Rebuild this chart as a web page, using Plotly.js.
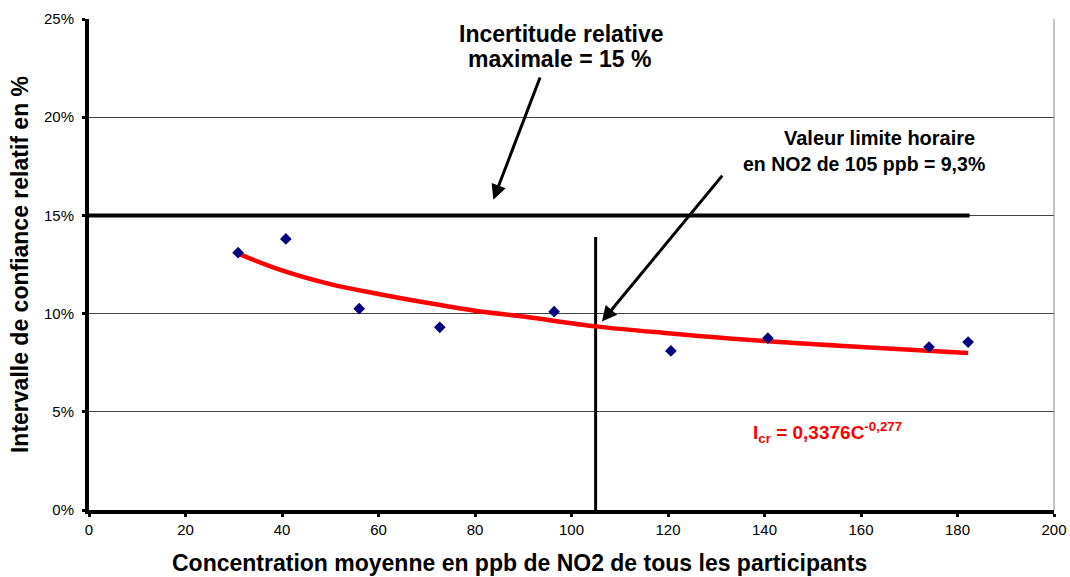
<!DOCTYPE html>
<html><head><meta charset="utf-8">
<script src="https://cdn.plot.ly/plotly-3.0.1.min.js"></script>
<style>body{margin:0;background:#fff}#c{width:1070px;height:577px}</style>
</head><body><div id="c"></div>
<script>
// measured points (concentration ppb, relative CI %)
const concentration = [30.9, 40.8, 56.0, 72.7, 96.4, 120.6, 140.7, 174.1, 182.2];
const intervalPct   = [13.1, 13.8, 10.25, 9.3, 10.1, 8.1, 8.75, 8.3, 8.55];
// power trend line
const trendX = [30.9, 40, 50, 60, 70, 80, 90, 105, 120, 140, 160, 182.2];
const trendY = [13.05, 12.2, 11.5, 11.0, 10.55, 10.15, 9.85, 9.35, 9.0, 8.6, 8.3, 8.0];
// reference lines
const limitX = [0, 182.5];
const limitY = [15, 15];
const hourX = [105, 105];
const hourY = [0, 13.9];
const xTicks = [0, 20, 40, 60, 80, 100, 120, 140, 160, 180, 200];
const yTicks = [0, 5, 10, 15, 20, 25];
const yTickText = ["0%", "5%", "10%", "15%", "20%", "25%"];

const F = "Liberation Sans, Arial, sans-serif";
const traces = [
  {x: limitX, y: limitY, mode: "lines", line: {color: "#000", width: 4}, hoverinfo: "skip"},
  {x: hourX, y: hourY, mode: "lines", line: {color: "#000", width: 3}, hoverinfo: "skip"},
  {x: trendX, y: trendY, mode: "lines", line: {color: "#ff0000", width: 4.5, shape: "spline"}},
  {x: concentration, y: intervalPct, mode: "markers",
   marker: {symbol: "diamond", size: 9, color: "#000080"}}
];
const layout = {
  width: 1070, height: 577, showlegend: false,
  paper_bgcolor: "#fff", plot_bgcolor: "#fff",
  margin: {l: 89, r: 16, t: 19, b: 67},
  font: {family: F, color: "#000"},
  xaxis: {range: [0, 200], tickvals: xTicks, showgrid: false, zeroline: false,
    showline: true, linecolor: "#000", linewidth: 4, mirror: false,
    ticks: "outside", ticklen: 3, tickwidth: 3, tickcolor: "#000",
    tickfont: {size: 15, family: F}},
  yaxis: {range: [0, 25], tickvals: yTicks, ticktext: yTickText,
    showgrid: true, gridcolor: "#444", gridwidth: 1, zeroline: false,
    showline: true, linecolor: "#000", linewidth: 4,
    ticks: "outside", ticklen: 3, tickwidth: 3, tickcolor: "#000",
    ticklabelstandoff: 5,
    tickfont: {size: 15, family: F},
    title: {text: "<b>Intervalle de confiance relatif en %</b>",
      font: {size: 23, family: F}, standoff: 10}},
  shapes: [
    {type: "line", xref: "paper", yref: "paper", x0: 1, x1: 1, y0: 0, y1: 1,
     line: {color: "#888", width: 1}}
  ],
  annotations: [
    {x: 83.8, y: 15.8, ax: 93.6, ay: 22.1, xref: "x", yref: "y", axref: "x", ayref: "y",
     text: "", showarrow: true, arrowhead: 2, arrowsize: 1, arrowwidth: 3, arrowcolor: "#000"},
    {x: 106.3, y: 9.6, ax: 131.5, ay: 17.1, xref: "x", yref: "y", axref: "x", ayref: "y",
     text: "", showarrow: true, arrowhead: 2, arrowsize: 1, arrowwidth: 3, arrowcolor: "#000"},
    {x: 0.4456, y: -0.108, xref: "paper", yref: "paper", xanchor: "center", yanchor: "middle",
     showarrow: false, text: "<b>Concentration moyenne en ppb de NO2 de tous les participants</b>",
     font: {size: 23, family: F}},
    {x: 98.0, y: 24.25, xref: "x", yref: "y", showarrow: false,
     text: "<b>Incertitude relative</b>", font: {size: 23, family: F}},
    {x: 97.6, y: 22.95, xref: "x", yref: "y", showarrow: false,
     text: "<b>maximale = 15 %</b>", font: {size: 23, family: F}},
    {x: 163.8, y: 18.95, xref: "x", yref: "y", showarrow: false,
     text: "<b>Valeur limite horaire</b>", font: {size: 20, family: F}},
    {x: 160.6, y: 17.6, xref: "x", yref: "y", showarrow: false,
     text: "<b>en NO2 de 105 ppb = 9,3%</b>", font: {size: 19.5, family: F}},
    {x: 153.0, y: 3.95, xref: "x", yref: "y", showarrow: false,
     text: "<b>I<sub>cr</sub> = 0,3376C<sup>-0,277</sup></b>", font: {size: 19, family: F, color: "#ff0000"}}
  ]
};
Plotly.newPlot("c", traces, layout, {displayModeBar: false, staticPlot: true});
</script></body></html>
